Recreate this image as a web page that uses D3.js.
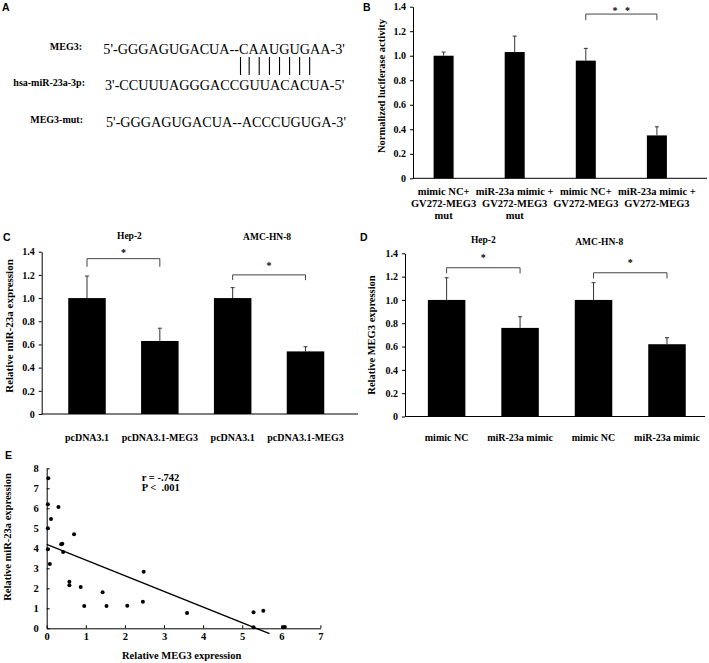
<!DOCTYPE html>
<html><head><meta charset="utf-8">
<script src="https://cdn.jsdelivr.net/npm/d3@7"></script>
<style>
body{margin:0;background:#fff}
svg{display:block}
text{white-space:pre}
</style>
</head><body>
<svg id="fig" width="709" height="663"></svg>
<script>
// ================= DATA =================
// Panel A
const seqNames = ["MEG3:", "hsa-miR-23a-3p:", "MEG3-mut:"];
const seqStrings = ["5'-GGGAGUGACUA--CAAUGUGAA-3'", "3'-CCUUUAGGGACCGUUACACUA-5'", "5'-GGGAGUGACUA--ACCCUGUGA-3'"];
const pairedChars = [15, 16, 17, 18, 19, 20, 21, 22];

// Panel B
const bLabels = [["mimic NC+", "GV272-MEG3", "mut"], ["miR-23a mimic +", "GV272-MEG3", "mut"], ["mimic NC+", "GV272-MEG3"], ["miR-23a mimic +", "GV272-MEG3"]];
const bMeans = [1.00, 1.03, 0.96, 0.35];
const bErrTops = [1.03, 1.16, 1.06, 0.42];
const bSig = [{from: 2, to: 3, top: 1.34, leg: 1.29, star: 1.38, label: "* *"}];

// Panel C
const cLabels = ["pcDNA3.1", "pcDNA3.1-MEG3", "pcDNA3.1", "pcDNA3.1-MEG3"];
const cGroups = ["Hep-2", "AMC-HN-8"];
const cMeans = [1.00, 0.63, 1.00, 0.54];
const cErrTops = [1.19, 0.74, 1.09, 0.58];
const cSig = [{from: 0, to: 1, top: 1.34, leg: 1.27, star: 1.41, label: "*"}, {from: 2, to: 3, top: 1.20, leg: 1.155, star: 1.29, label: "*"}];

// Panel D
const dLabels = ["mimic NC", "miR-23a mimic", "mimic NC", "miR-23a mimic"];
const dGroups = ["Hep-2", "AMC-HN-8"];
const dMeans = [1.00, 0.76, 1.00, 0.62];
const dErrTops = [1.19, 0.856, 1.148, 0.676];
const dSig = [{from: 0, to: 1, top: 1.276, leg: 1.228, star: 1.376, label: "*"}, {from: 2, to: 3, top: 1.233, leg: 1.185, star: 1.336, label: "*"}];

const barTicks = [0, 0.2, 0.4, 0.6, 0.8, 1.0, 1.2, 1.4];

// Panel E
const eMEG3 = [0.04, 0.03, 0.30, 0.11, 0.03, 0.70, 0.37, 0.40, 0.03, 0.42, 0.08, 0.58, 0.58, 0.87, 2.48, 1.43, 0.96, 1.53, 2.06, 2.46, 3.59, 5.29, 5.54, 5.29, 6.05, 6.09];
const eMiR  = [7.50, 6.20, 6.07, 5.47, 5.00, 4.70, 4.20, 4.23, 3.95, 3.82, 3.22, 2.33, 2.15, 2.07, 2.83, 1.80, 1.12, 1.12, 1.13, 1.33, 0.77, 0.80, 0.88, 0.05, 0.05, 0.07];
const eFitX = [0, 5.7];
const eFitY = [4.2, -0.27];
const eXTicks = [0, 1, 2, 3, 4, 5, 6, 7];
const eYTicks = [0, 1, 2, 3, 4, 5, 6, 7, 8];
const eStats = ["r = -.742", "P <  .001"];

// ================= DRAWING =================
const svg = d3.select("#fig");
const SERIF = "'Liberation Serif','Times New Roman',serif";
const SANS = "'Liberation Sans',Arial,sans-serif";

function txt(g, x, y, s, o = {}) {
  return g.append("text").attr("x", x).attr("y", y).text(s)
    .attr("font-family", o.family || SERIF)
    .attr("font-weight", o.weight || "bold")
    .attr("font-size", o.size || 10)
    .attr("text-anchor", o.anchor || "start")
    .attr("fill", "#000");
}

// Panel letters
[["A", 2, 11], ["B", 363, 11], ["C", 3, 241], ["D", 360, 241], ["E", 5, 459]].forEach(([l, x, y]) =>
  txt(svg, x, y, l, {family: SANS, size: 10.5}));

// ---------- Panel A ----------
{
  const labelRight = [82, 85, 83], labelBase = [50, 86, 123];
  const seqX = [103.3, 105, 106], seqBase = [54, 90, 127];
  seqNames.forEach((n, i) => txt(svg, labelRight[i], labelBase[i], n, {anchor: "end", size: 10}));
  const nodes = seqStrings.map((s, i) => txt(svg, seqX[i], seqBase[i], s, {weight: "normal", size: 14.2}));
  const top = nodes[0].node(), bot = nodes[1].node();
  pairedChars.forEach(k => {
    const e1 = top.getExtentOfChar(k), e2 = bot.getExtentOfChar(k);
    const cx = ((e1.x + e1.width / 2) + (e2.x + e2.width / 2)) / 2;
    svg.append("line").attr("x1", cx).attr("x2", cx).attr("y1", 57).attr("y2", 75)
      .attr("stroke", "#000").attr("stroke-width", 1.1);
  });
}

// ---------- generic bar panel ----------
function barPanel(c) {
  const g = svg.append("g");
  const n = c.means.length;
  const y = d3.scaleLinear().domain([0, 1.4]).range([c.y0, c.y1]);
  const x = d3.scalePoint().domain(d3.range(n)).range([c.c0, c.c1]);
  const ya = g.append("g").attr("transform", `translate(${c.ax},0)`)
    .call(d3.axisLeft(y).tickValues(barTicks).tickSize(3).tickSizeOuter(0).tickPadding(4)
      .tickFormat(d => d === 0 ? "0" : d.toFixed(1)));
  ya.selectAll("text").attr("font-family", SERIF).attr("font-weight", "bold").attr("font-size", 10).attr("fill", "#000");
  ya.select(".domain").attr("stroke", "#000");
  ya.selectAll(".tick line").attr("stroke", "#000");
  // x axis line
  g.append("line").attr("x1", c.ax).attr("x2", c.axEnd).attr("y1", y(0)).attr("y2", y(0)).attr("stroke", "#000");
  // bars
  g.selectAll("rect.bar").data(c.means).join("rect")
    .attr("x", (d, i) => x(i) - c.bw / 2).attr("width", c.bw)
    .attr("y", d => y(d)).attr("height", d => y(0) - y(d)).attr("fill", "#000");
  // error bars
  c.errs.forEach((e, i) => {
    g.append("line").attr("x1", x(i)).attr("x2", x(i)).attr("y1", y(c.means[i])).attr("y2", y(e)).attr("stroke", "#333");
    g.append("line").attr("x1", x(i) - 2).attr("x2", x(i) + 2).attr("y1", y(e)).attr("y2", y(e)).attr("stroke", "#333");
  });
  // significance brackets
  c.sig.forEach(s => {
    const x1 = x(s.from), x2 = x(s.to);
    g.append("path").attr("d", `M${x1},${y(s.leg)}V${y(s.top)}H${x2}V${y(s.leg)}`)
      .attr("fill", "none").attr("stroke", "#444");
    const t = txt(g, (x1 + x2) / 2, y(s.star) + 5, s.label, {anchor: "middle", size: 10});
    if (s.label.length > 1) t.attr("word-spacing", 5);
  });
  // x labels
  c.labels.forEach((l, i) => {
    const lines = Array.isArray(l) ? l : [l];
    lines.forEach((ln, j) => txt(g, x(i), c.labBase + j * c.labStep, ln, {anchor: "middle", size: c.labSize}));
  });
  // group titles
  if (c.groups) c.groups.forEach((gr, k) => {
    txt(g, (x(2 * k) + x(2 * k + 1)) / 2 + c.grpShift[k], c.grpBase[k], gr, {anchor: "middle", size: 9.5});
  });
  // y title
  txt(g, 0, 0, c.title, {anchor: "middle", size: c.titleSize})
    .attr("transform", `translate(${c.titleX},${c.titleY}) rotate(-90)`);
  return g;
}

barPanel({means: bMeans, errs: bErrTops, sig: bSig, labels: bLabels,
  ax: 413, axEnd: 707, y0: 178.3, y1: 6.7, c0: 443.6, c1: 656.9, bw: 20,
  labBase: 194.5, labStep: 12, labSize: 10.5,
  title: "Normalized luciferase activity", titleX: 384.5, titleY: 86, titleSize: 10.5});

barPanel({means: cMeans, errs: cErrTops, sig: cSig, labels: cLabels, groups: cGroups,
  grpShift: [6, -2], grpBase: [239, 240],
  ax: 41.7, axEnd: 358, y0: 414, y1: 251.7, c0: 87, c1: 305.5, bw: 37.5,
  labBase: 441, labStep: 12, labSize: 10,
  title: "Relative miR-23a expression", titleX: 12.5, titleY: 326, titleSize: 11});

barPanel({means: dMeans, errs: dErrTops, sig: dSig, labels: dLabels, groups: dGroups,
  grpShift: [0, -31], grpBase: [243, 245],
  ax: 405, axEnd: 705, y0: 416.5, y1: 253.3, c0: 446.6, c1: 667, bw: 37.5,
  labBase: 441, labStep: 12, labSize: 10,
  title: "Relative MEG3 expression", titleX: 375, titleY: 335, titleSize: 10.5});

// ---------- Panel E ----------
{
  const g = svg.append("g");
  const x = d3.scaleLinear().domain([0, 7]).range([46.7, 320.4]);
  const y = d3.scaleLinear().domain([0, 8]).range([628.3, 468.3]);
  const xa = g.append("g").attr("transform", `translate(0,${y(0)})`)
    .call(d3.axisBottom(x).tickValues(eXTicks).tickSize(-3).tickSizeOuter(0).tickPadding(4).tickFormat(d3.format("d")));
  const ya = g.append("g").attr("transform", `translate(${x(0)},0)`)
    .call(d3.axisLeft(y).tickValues(eYTicks).tickSize(-3).tickSizeOuter(0).tickPadding(8).tickFormat(d3.format("d")));
  [xa, ya].forEach(a => {
    a.selectAll("text").attr("font-family", SERIF).attr("font-weight", "bold").attr("font-size", 10.5).attr("fill", "#000");
    a.select(".domain").attr("stroke", "#000");
    a.selectAll(".tick line").attr("stroke", "#000");
  });
  g.append("line").attr("x1", x(eFitX[0])).attr("y1", y(eFitY[0])).attr("x2", x(eFitX[1])).attr("y2", y(eFitY[1]))
    .attr("stroke", "#000").attr("stroke-width", 1.3);
  g.selectAll("circle").data(eMEG3).join("circle")
    .attr("cx", d => x(d)).attr("cy", (d, i) => y(eMiR[i])).attr("r", 2).attr("fill", "#000");
  eStats.forEach((s, i) => txt(g, 141.7, 481 + i * 10, s, {size: 10.5}));
  txt(g, 181.7, 659, "Relative MEG3 expression", {anchor: "middle", size: 10.5});
  txt(g, 0, 0, "Relative miR-23a expression", {anchor: "middle", size: 10.5})
    .attr("transform", `translate(11,537) rotate(-90)`);
}
</script>
</body></html>
